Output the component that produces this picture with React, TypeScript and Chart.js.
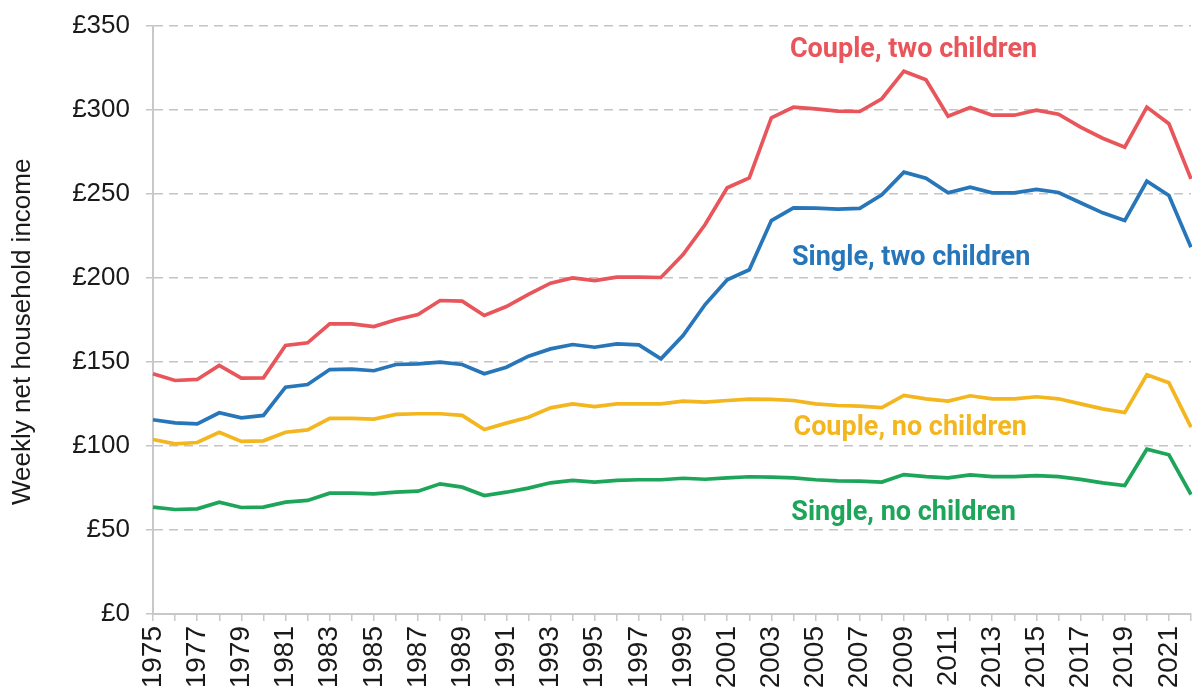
import React, { useEffect, useRef } from "react";
import { Chart, registerables } from "chart.js";

Chart.register(...registerables);

const years: string[] = [];
for (let y = 1975; y <= 2022; y++) years.push(String(y));

const coupleTwoChildren = [143, 139, 139.6, 148, 140.4, 140.6, 159.8, 161.4, 172.7, 172.7, 171.1, 175.2, 178.3, 186.6, 186.2, 177.7, 183, 190.2, 196.9, 200.1, 198.5, 200.5, 200.5, 200.3, 214, 231.8, 253.7, 259.6, 295.4, 301.7, 300.7, 299.3, 299.1, 306.7, 323.1, 318, 296.3, 301.5, 296.9, 296.9, 299.9, 297.5, 289.8, 283.2, 277.9, 301.7, 291.8, 259];
const singleTwoChildren = [115.6, 113.8, 113.2, 119.8, 116.8, 118.2, 135, 136.6, 145.5, 145.7, 144.8, 148.5, 148.9, 149.9, 148.5, 143, 146.9, 153.5, 157.8, 160.4, 158.8, 160.8, 160.2, 151.9, 165.8, 184.2, 198.9, 204.9, 234.2, 241.8, 241.6, 241, 241.4, 249.5, 263, 259.4, 250.7, 254, 250.7, 250.7, 252.7, 250.9, 244.8, 238.8, 234.2, 257.6, 249.1, 218.3];
const coupleNoChildren = [103.9, 101.3, 102.1, 108.2, 102.7, 103.1, 108.2, 109.6, 116.5, 116.5, 116, 118.8, 119.2, 119.2, 118.2, 109.8, 113.6, 117.1, 122.7, 125.1, 123.5, 125.1, 125.1, 125.1, 126.7, 126.1, 127.1, 127.9, 127.7, 127.1, 125.1, 124.1, 123.7, 122.9, 130.1, 128.1, 126.7, 129.9, 128.1, 128.1, 129.3, 128.1, 125.1, 122.1, 119.9, 142.4, 137.6, 111.2];
const singleNoChildren = [63.6, 62.2, 62.6, 66.6, 63.4, 63.6, 66.6, 67.6, 71.9, 71.9, 71.5, 72.5, 73.1, 77.5, 75.5, 70.5, 72.5, 74.9, 78.1, 79.5, 78.5, 79.5, 79.9, 79.9, 80.8, 80.2, 81, 81.7, 81.5, 81, 79.9, 79.3, 79.1, 78.5, 83, 81.8, 81, 82.8, 81.8, 81.8, 82.4, 81.8, 80.1, 78.1, 76.5, 98.1, 94.8, 71.1];

const seriesNames = ["Couple, two children", "Single, two children", "Couple, no children", "Single, no children"];
const seriesColors = ["#E8555A", "#2776BA", "#F3B61F", "#1DA65A"];
// label anchors: [fractional category index, value]
const labelAnchors: [number, number][] = [[28.84, 335.4], [28.93, 211.6], [29.0, 110.4], [28.9, 59.8]];

const yTitle = "Weekly net household income";
const yTitleValue = 168; // axis value at which the rotated title is centred

const seriesLabelsPlugin = {
  id: "seriesLabels",
  afterDatasetsDraw(chart: any) {
    const ctx = chart.ctx;
    const xs = chart.scales.x;
    const ys = chart.scales.y;
    ctx.save();
    ctx.font = "bold 27px Roboto";
    ctx.textAlign = "left";
    ctx.textBaseline = "middle";
    seriesNames.forEach((name, i) => {
      const [xi, yv] = labelAnchors[i];
      ctx.fillStyle = seriesColors[i];
      ctx.fillText(name, xs.getPixelForValue(xi), ys.getPixelForValue(yv));
    });
    // y axis title
    ctx.translate(23, ys.getPixelForValue(yTitleValue));
    ctx.rotate(-Math.PI / 2);
    ctx.font = "26px 'Liberation Sans', Arial";
    ctx.fillStyle = "#1a1a1a";
    ctx.textAlign = "center";
    ctx.fillText(yTitle, 0, 0);
    ctx.restore();
  },
};

export default function App() {
  const ref = useRef<HTMLCanvasElement>(null);
  useEffect(() => {
    if (!ref.current) return;
    const data = [coupleTwoChildren, singleTwoChildren, coupleNoChildren, singleNoChildren];
    const chart = new Chart(ref.current, {
      type: "line",
      data: {
        labels: years,
        datasets: data.map((d, i) => ({
          label: seriesNames[i],
          data: d,
          borderColor: seriesColors[i],
          backgroundColor: seriesColors[i],
          borderWidth: 3.7,
          pointRadius: 0,
          tension: 0,
          fill: false,
        })),
      },
      options: {
        animation: false,
        responsive: true,
        maintainAspectRatio: false,
        layout: { padding: { top: 26, right: 1, left: 0, bottom: 0 } },
        plugins: { legend: { display: false }, tooltip: { enabled: false } },
        scales: {
          x: {
            type: "category",
            offset: false,
            grid: { display: true, drawOnChartArea: false, drawTicks: true, tickLength: 7, color: "#c8c8c8", lineWidth: 1.5 },
            border: { display: true, color: "#c8c8c8", width: 2 },
            ticks: {
              autoSkip: false,
              maxRotation: 90,
              minRotation: 90,
              padding: 5,
              color: "#1a1a1a",
              font: { family: "'Liberation Sans Narrow', 'Liberation Sans', Arial", size: 28 },
              callback: (_v: any, idx: number) => (idx % 2 === 0 ? years[idx] : ""),
            },
            afterFit: (s: any) => {
              s.height = 76;
              s.paddingLeft = 0;
              s.paddingRight = 0;
            },
          },
          y: {
            min: 0,
            max: 350,
            grid: { color: "#c4c4c4", lineWidth: 1.5, tickLength: 7, drawTicks: true },
            border: { display: true, color: "#c8c8c8", width: 2, dash: [9, 6] },
            ticks: {
              stepSize: 50,
              padding: 16,
              color: "#1a1a1a",
              font: { family: "'Liberation Sans', Arial", size: 26 },
              callback: (v: any) => "£" + v,
            },
            title: { display: false },
            afterFit: (s: any) => {
              s.width = 153;
              s.paddingTop = 0;
              s.paddingBottom = 0;
            },
          },
        },
      },
      plugins: [seriesLabelsPlugin],
    } as any);
    return () => chart.destroy();
  }, []);
  return (
    <div style={{ position: "absolute", left: 0, top: 0, width: 1192, height: 690, background: "#fff" }}>
      <canvas ref={ref} />
    </div>
  );
}
